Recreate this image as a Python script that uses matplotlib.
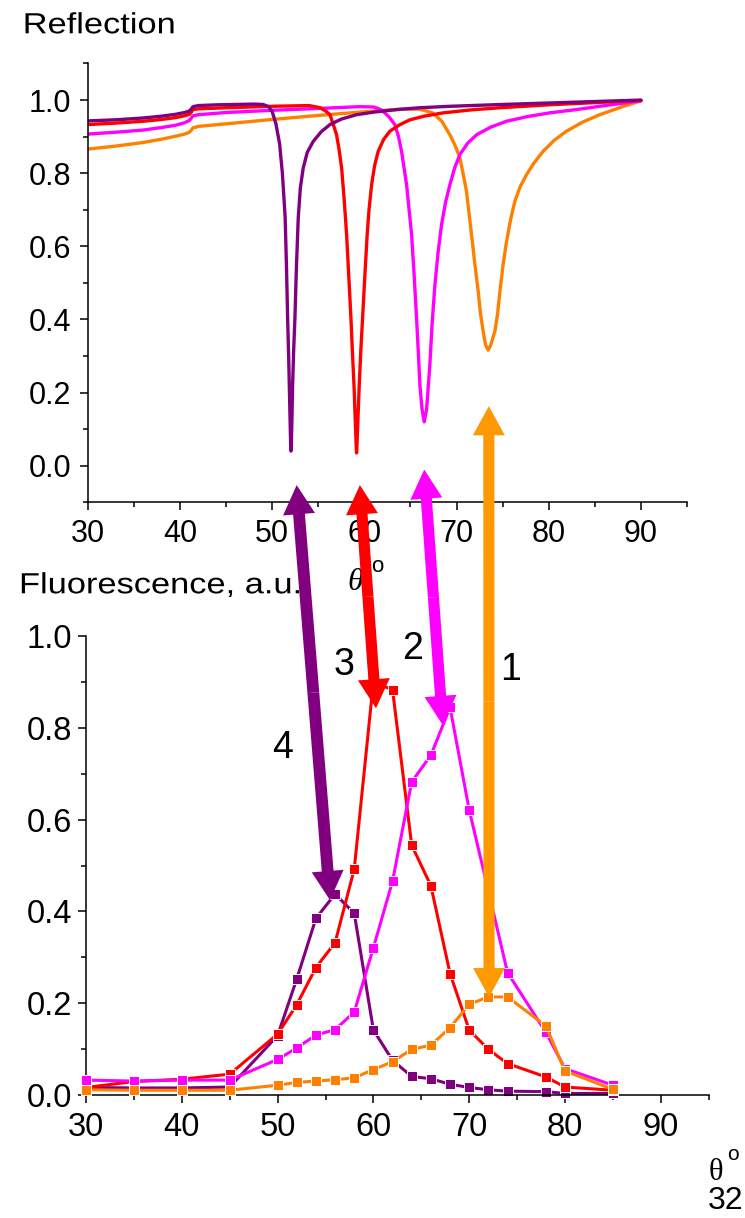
import numpy as np
import matplotlib
matplotlib.use("Agg")
import matplotlib.pyplot as plt
from matplotlib.patches import ConnectionPatch, ArrowStyle
from matplotlib.ticker import MultipleLocator, FixedLocator
from matplotlib.transforms import Affine2D
from matplotlib import patheffects

plt.rcParams['font.family'] = ['Liberation Sans', 'DejaVu Sans']

# ---------------- reflection curves (angle in degrees, reflectance) ----------------
refl_angle_1 = [30.0, 33.0, 36.0, 38.0, 39.5, 40.5, 41.0, 41.2, 41.4, 42.0, 45.0, 50.0, 55.0,
                60.0, 64.0, 66.0, 67.4, 68.4, 69.27, 69.8, 70.36, 70.7, 71.08, 71.62, 72.0,
                72.35, 72.6, 72.89, 73.15, 73.43, 73.7, 74.15, 74.45, 74.7, 75.05, 75.42,
                75.85, 76.32, 76.9, 77.59, 78.4, 79.39, 80.6, 81.93, 83.7, 85.54, 88.0, 90.0]
refl_1 = [0.866, 0.874, 0.884, 0.893, 0.901, 0.907, 0.912, 0.917, 0.924, 0.928, 0.935, 0.947,
          0.958, 0.968, 0.975, 0.975, 0.965, 0.942, 0.905, 0.878, 0.842, 0.800, 0.750, 0.632,
          0.548, 0.476, 0.415, 0.367, 0.330, 0.316, 0.330, 0.367, 0.415, 0.476, 0.550, 0.613,
          0.672, 0.723, 0.763, 0.796, 0.828, 0.860, 0.890, 0.915, 0.940, 0.960, 0.982, 0.998]

refl_angle_2 = [30.0, 33.0, 36.0, 38.0, 39.5, 40.5, 41.0, 41.2, 41.4, 42.0, 45.0, 50.0, 55.0,
                59.5, 61.0, 61.6, 62.04, 62.7, 63.3, 63.7, 64.03, 64.3, 64.58, 64.85, 65.12,
                65.4, 65.66, 65.85, 66.02, 66.25, 66.49, 66.75, 67.1, 67.35, 67.65, 68.0,
                68.37, 68.8, 69.27, 69.8, 70.36, 71.2, 72.17, 73.7, 75.42, 77.7, 80.12, 83.0,
                85.54, 90.0]
refl_2 = [0.907, 0.912, 0.918, 0.925, 0.931, 0.938, 0.944, 0.950, 0.957, 0.960, 0.966, 0.972,
          0.977, 0.982, 0.981, 0.976, 0.969, 0.953, 0.933, 0.900, 0.860, 0.815, 0.768, 0.700,
          0.632, 0.520, 0.403, 0.310, 0.221, 0.155, 0.120, 0.155, 0.275, 0.390, 0.495, 0.585,
          0.659, 0.720, 0.768, 0.815, 0.851, 0.882, 0.905, 0.926, 0.942, 0.955, 0.965, 0.974,
          0.983, 0.998]

refl_angle_3 = [30.0, 33.0, 36.0, 38.0, 39.5, 40.5, 41.0, 41.2, 41.4, 42.0, 45.0, 50.0, 54.0,
                55.2, 55.8, 56.26, 56.6, 56.98, 57.25, 57.53, 57.8, 58.07, 58.3, 58.54, 58.7,
                58.87, 59.0, 59.1, 59.15, 59.2, 59.3, 59.44, 59.6, 59.8, 60.05, 60.3, 60.5,
                60.78, 61.1, 61.5, 62.1, 62.77, 63.8, 64.93, 66.5, 68.55, 71.5, 74.7, 80.0,
                85.0, 90.0]
refl_3 = [0.933, 0.937, 0.942, 0.947, 0.952, 0.957, 0.961, 0.966, 0.974, 0.976, 0.979, 0.983,
          0.985, 0.979, 0.970, 0.960, 0.935, 0.905, 0.865, 0.814, 0.730, 0.632, 0.520, 0.403,
          0.310, 0.221, 0.130, 0.060, 0.035, 0.060, 0.130, 0.221, 0.310, 0.403, 0.520, 0.632,
          0.700, 0.768, 0.820, 0.860, 0.893, 0.915, 0.932, 0.946, 0.956, 0.965, 0.973, 0.979,
          0.987, 0.993, 0.999]

refl_angle_4 = [30.0, 33.0, 36.0, 38.0, 39.5, 40.5, 41.0, 41.2, 41.4, 42.0, 44.0, 46.0, 48.0,
                49.0, 49.6, 50.0, 50.4, 50.8, 51.1, 51.4, 51.55, 51.67, 51.78, 51.87, 51.95,
                52.0, 52.03, 52.07, 52.13, 52.21, 52.33, 52.46, 52.62, 52.82, 53.05, 53.36,
                53.8, 54.45, 55.3, 56.26, 57.5, 59.15, 61.0, 63.5, 66.0, 69.3, 75.0, 80.0,
                85.0, 90.0]
refl_4 = [0.943, 0.946, 0.951, 0.956, 0.961, 0.966, 0.970, 0.975, 0.982, 0.985, 0.987, 0.988,
          0.989, 0.988, 0.982, 0.968, 0.935, 0.880, 0.800, 0.680, 0.540, 0.403, 0.300, 0.200,
          0.110, 0.055, 0.040, 0.055, 0.120, 0.220, 0.320, 0.403, 0.540, 0.677, 0.760, 0.814,
          0.857, 0.887, 0.913, 0.933, 0.948, 0.960, 0.967, 0.974, 0.979, 0.983, 0.988, 0.992,
          0.996, 1.000]

# ---------------- fluorescence vs. angle ----------------
fl_angle = [30, 35, 40, 45, 50, 52, 54, 56, 58, 60, 62, 64, 66, 68, 70, 72, 74, 78, 80, 85]
fl_1 = [0.012, 0.011, 0.011, 0.011, 0.022, 0.028, 0.031, 0.034, 0.038, 0.056, 0.073, 0.100,
        0.109, 0.147, 0.198, 0.214, 0.214, 0.151, 0.053, 0.013]
fl_2 = [0.033, 0.031, 0.033, 0.033, 0.078, 0.103, 0.131, 0.143, 0.181, 0.321, 0.466, 0.682,
        0.740, 0.844, 0.621, 0.445, 0.267, 0.137, 0.058, 0.022]
fl_3 = [0.017, 0.030, 0.035, 0.046, 0.133, 0.197, 0.278, 0.332, 0.492, 0.900, 0.882, 0.544,
        0.456, 0.265, 0.142, 0.100, 0.069, 0.040, 0.018, 0.011]
fl_4 = [0.017, 0.016, 0.016, 0.018, 0.130, 0.253, 0.385, 0.438, 0.396, 0.142, 0.076, 0.041,
        0.036, 0.024, 0.017, 0.012, 0.009, 0.008, 0.004, 0.004]

C_ORANGE = '#FF8000'
C_ARROW_ORANGE = '#FF9900'
C_MAGENTA = '#FF00FF'
C_RED = '#FF0000'
C_PURPLE = '#800080'

W, H = 745, 1218
fig = plt.figure(figsize=(W / 100, H / 100), dpi=100)


def frac(px, py):
    return px / W, 1 - py / H


class HStretch(patheffects.AbstractPathEffect):
    """Widen glyphs horizontally about the text origin."""
    def __init__(self, sx):
        super().__init__()
        self.sx = sx

    def draw_path(self, renderer, gc, tpath, affine, rgbFace=None):
        renderer.draw_path(gc, tpath, Affine2D().scale(self.sx, 1.0) + affine, rgbFace)


def style_axes(ax, labelsize):
    for side in ('top', 'right'):
        ax.spines[side].set_visible(False)
    for side in ('left', 'bottom'):
        ax.spines[side].set_linewidth(1.1)
    ax.tick_params(which='major', direction='out', length=6, width=1.1,
                   labelsize=labelsize, pad=6)
    ax.tick_params(which='minor', direction='out', length=3.3, width=1.1)


# ---------------- top panel: reflection ----------------
ax1 = fig.add_axes([87.9 / W, 1 - 502.3 / H, (687 - 87.9) / W, (502.3 - 63.5) / H])
ax1.set_xlim(30, 95)
ax1.set_ylim(-0.1, 1.1)
for xs, ys, c in ((refl_angle_1, refl_1, C_ORANGE), (refl_angle_2, refl_2, C_MAGENTA),
                  (refl_angle_3, refl_3, C_RED), (refl_angle_4, refl_4, C_PURPLE)):
    ax1.plot(xs, ys, color=c, lw=2.4, solid_joinstyle='round', solid_capstyle='round')
style_axes(ax1, 22)
ax1.xaxis.set_major_locator(FixedLocator([30, 40, 50, 60, 70, 80, 90]))
ax1.xaxis.set_minor_locator(MultipleLocator(5))
ax1.yaxis.set_major_locator(FixedLocator([0.0, 0.2, 0.4, 0.6, 0.8, 1.0]))
ax1.yaxis.set_minor_locator(MultipleLocator(0.1))
ax1.yaxis.set_major_formatter(plt.FormatStrFormatter('%.1f'))

# ---------------- bottom panel: fluorescence ----------------
ax2 = fig.add_axes([86 / W, 1 - 1095.3 / H, (708.7 - 86) / W, (1095.3 - 635.7) / H])
ax2.set_xlim(30, 95)
ax2.set_ylim(0, 1.0)
for ys, c, z in ((fl_4, C_PURPLE, 2), (fl_3, C_RED, 3), (fl_2, C_MAGENTA, 4), (fl_1, C_ORANGE, 5)):
    ax2.plot(fl_angle, ys, color=c, lw=2.2, marker='s', ms=7.2, mfc=c, mec='white',
             mew=0.7, zorder=z, clip_on=False)
style_axes(ax2, 23.5)
ax2.xaxis.set_major_locator(FixedLocator([30, 40, 50, 60, 70, 80, 90]))
ax2.xaxis.set_minor_locator(MultipleLocator(5))
ax2.yaxis.set_major_locator(FixedLocator([0.0, 0.2, 0.4, 0.6, 0.8, 1.0]))
ax2.yaxis.set_minor_locator(MultipleLocator(0.1))
ax2.yaxis.set_major_formatter(plt.FormatStrFormatter('%.1f'))
ax2.tick_params(axis='y', which='major', pad=4)

# ---------------- labels ----------------
fig.text(*frac(22.7, 33.3), 'Reflection', fontsize=21, ha='left', va='baseline',
         path_effects=[HStretch(1.18)])
fig.text(*frac(19, 593.3), 'Fluorescence, a.u.', fontsize=21, ha='left', va='baseline',
         path_effects=[HStretch(1.18)])
fig.text(*frac(347, 590), 'θ', fontsize=23, family='Liberation Serif', style='italic',
         ha='left', va='baseline')
fig.text(*frac(371, 572), 'o', fontsize=16, ha='left', va='baseline')
fig.text(*frac(709, 1180), 'θ', fontsize=22, family='Liberation Serif',
         ha='left', va='baseline')
fig.text(*frac(727, 1160), 'o', fontsize=15, ha='left', va='baseline')
fig.text(*frac(743, 1216), '32', fontsize=23, ha='right', va='bottom')

for s, (px, py) in (('4', (283, 748)), ('3', (344, 665)), ('2', (412.5, 649)), ('1', (511, 670))):
    fig.text(*frac(px, py), s, fontsize=27, ha='center', va='center')


# ---------------- double-headed arrows linking dips to fluorescence peaks ----------------
def double_arrow(tip_top, tip_bot, color, tail_w=8.0, head_w=23.0, head_l=21.0):
    a = ax1.transData.transform(tip_top)
    b = ax2.transData.transform(tip_bot)
    mid = (a + b) / 2.0
    style = ArrowStyle.Simple(head_length=head_l, head_width=head_w, tail_width=tail_w)
    for tip, ax in ((tip_top, ax1), (tip_bot, ax2)):
        con = ConnectionPatch(xyA=mid, coordsA='figure pixels', xyB=tip, coordsB=ax.transData,
                              arrowstyle=style, mutation_scale=1, color=color, lw=0,
                              shrinkA=0, shrinkB=0, zorder=10)
        fig.add_artist(con)


double_arrow((52.65, -0.053), (55.47, 0.4246), C_PURPLE, tail_w=8.5)
double_arrow((59.51, -0.053), (60.27, 0.842), C_RED)
double_arrow((66.49, -0.0104), (67.23, 0.8056), C_MAGENTA)
double_arrow((73.5, 0.163), (72.07, 0.2134), C_ARROW_ORANGE)

fig.savefig('out.png', dpi=100)
